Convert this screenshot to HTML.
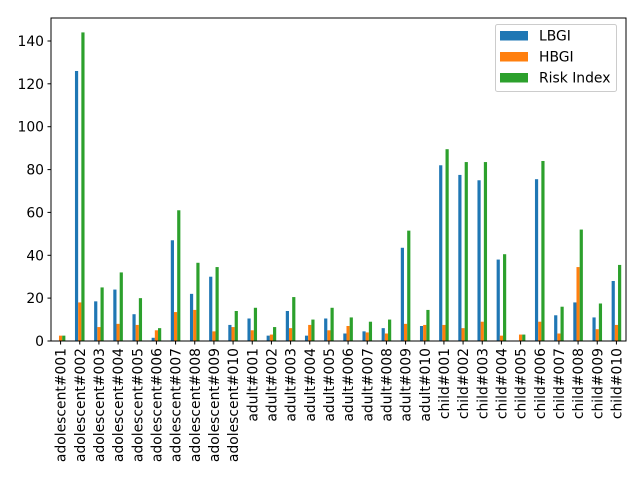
<!DOCTYPE html>
<html><head><style>body{margin:0;background:#fff}svg{display:block}text{font-family:"DejaVu Sans","Liberation Sans",sans-serif;font-size:13.9px;fill:#000}</style></head>
<body>
<svg width="640" height="480" viewBox="0 0 640 480" xmlns="http://www.w3.org/2000/svg">
<g id="bars">
<g transform="translate(60.58,341) scale(1,-2.143)"><rect x="-4.79" width="3.19" height="0" fill="#1f77b4"/><rect x="-1.6" width="3.19" height="2.5" fill="#ff7f0e"/><rect x="1.6" width="3.19" height="2.5" fill="#2ca02c"/></g>
<g transform="translate(79.75,341) scale(1,-2.143)"><rect x="-4.79" width="3.19" height="126" fill="#1f77b4"/><rect x="-1.6" width="3.19" height="18" fill="#ff7f0e"/><rect x="1.6" width="3.19" height="144" fill="#2ca02c"/></g>
<g transform="translate(98.92,341) scale(1,-2.143)"><rect x="-4.79" width="3.19" height="18.5" fill="#1f77b4"/><rect x="-1.6" width="3.19" height="6.5" fill="#ff7f0e"/><rect x="1.6" width="3.19" height="25" fill="#2ca02c"/></g>
<g transform="translate(118.08,341) scale(1,-2.143)"><rect x="-4.79" width="3.19" height="24" fill="#1f77b4"/><rect x="-1.6" width="3.19" height="8" fill="#ff7f0e"/><rect x="1.6" width="3.19" height="32" fill="#2ca02c"/></g>
<g transform="translate(137.25,341) scale(1,-2.143)"><rect x="-4.79" width="3.19" height="12.5" fill="#1f77b4"/><rect x="-1.6" width="3.19" height="7.5" fill="#ff7f0e"/><rect x="1.6" width="3.19" height="20" fill="#2ca02c"/></g>
<g transform="translate(156.42,341) scale(1,-2.143)"><rect x="-4.79" width="3.19" height="1.5" fill="#1f77b4"/><rect x="-1.6" width="3.19" height="5" fill="#ff7f0e"/><rect x="1.6" width="3.19" height="6" fill="#2ca02c"/></g>
<g transform="translate(175.58,341) scale(1,-2.143)"><rect x="-4.79" width="3.19" height="47" fill="#1f77b4"/><rect x="-1.6" width="3.19" height="13.5" fill="#ff7f0e"/><rect x="1.6" width="3.19" height="61" fill="#2ca02c"/></g>
<g transform="translate(194.75,341) scale(1,-2.143)"><rect x="-4.79" width="3.19" height="22" fill="#1f77b4"/><rect x="-1.6" width="3.19" height="14.5" fill="#ff7f0e"/><rect x="1.6" width="3.19" height="36.5" fill="#2ca02c"/></g>
<g transform="translate(213.92,341) scale(1,-2.143)"><rect x="-4.79" width="3.19" height="30" fill="#1f77b4"/><rect x="-1.6" width="3.19" height="4.5" fill="#ff7f0e"/><rect x="1.6" width="3.19" height="34.5" fill="#2ca02c"/></g>
<g transform="translate(233.08,341) scale(1,-2.143)"><rect x="-4.79" width="3.19" height="7.5" fill="#1f77b4"/><rect x="-1.6" width="3.19" height="6.5" fill="#ff7f0e"/><rect x="1.6" width="3.19" height="14" fill="#2ca02c"/></g>
<g transform="translate(252.25,341) scale(1,-2.143)"><rect x="-4.79" width="3.19" height="10.5" fill="#1f77b4"/><rect x="-1.6" width="3.19" height="5" fill="#ff7f0e"/><rect x="1.6" width="3.19" height="15.5" fill="#2ca02c"/></g>
<g transform="translate(271.42,341) scale(1,-2.143)"><rect x="-4.79" width="3.19" height="2.5" fill="#1f77b4"/><rect x="-1.6" width="3.19" height="3" fill="#ff7f0e"/><rect x="1.6" width="3.19" height="6.5" fill="#2ca02c"/></g>
<g transform="translate(290.58,341) scale(1,-2.143)"><rect x="-4.79" width="3.19" height="14" fill="#1f77b4"/><rect x="-1.6" width="3.19" height="6" fill="#ff7f0e"/><rect x="1.6" width="3.19" height="20.5" fill="#2ca02c"/></g>
<g transform="translate(309.75,341) scale(1,-2.143)"><rect x="-4.79" width="3.19" height="2.5" fill="#1f77b4"/><rect x="-1.6" width="3.19" height="7.5" fill="#ff7f0e"/><rect x="1.6" width="3.19" height="10" fill="#2ca02c"/></g>
<g transform="translate(328.92,341) scale(1,-2.143)"><rect x="-4.79" width="3.19" height="10.5" fill="#1f77b4"/><rect x="-1.6" width="3.19" height="5" fill="#ff7f0e"/><rect x="1.6" width="3.19" height="15.5" fill="#2ca02c"/></g>
<g transform="translate(348.08,341) scale(1,-2.143)"><rect x="-4.79" width="3.19" height="3.5" fill="#1f77b4"/><rect x="-1.6" width="3.19" height="7" fill="#ff7f0e"/><rect x="1.6" width="3.19" height="11" fill="#2ca02c"/></g>
<g transform="translate(367.25,341) scale(1,-2.143)"><rect x="-4.79" width="3.19" height="4.5" fill="#1f77b4"/><rect x="-1.6" width="3.19" height="4" fill="#ff7f0e"/><rect x="1.6" width="3.19" height="9" fill="#2ca02c"/></g>
<g transform="translate(386.42,341) scale(1,-2.143)"><rect x="-4.79" width="3.19" height="6" fill="#1f77b4"/><rect x="-1.6" width="3.19" height="3.5" fill="#ff7f0e"/><rect x="1.6" width="3.19" height="10" fill="#2ca02c"/></g>
<g transform="translate(405.58,341) scale(1,-2.143)"><rect x="-4.79" width="3.19" height="43.5" fill="#1f77b4"/><rect x="-1.6" width="3.19" height="8" fill="#ff7f0e"/><rect x="1.6" width="3.19" height="51.5" fill="#2ca02c"/></g>
<g transform="translate(424.75,341) scale(1,-2.143)"><rect x="-4.79" width="3.19" height="7" fill="#1f77b4"/><rect x="-1.6" width="3.19" height="7.5" fill="#ff7f0e"/><rect x="1.6" width="3.19" height="14.5" fill="#2ca02c"/></g>
<g transform="translate(443.92,341) scale(1,-2.143)"><rect x="-4.79" width="3.19" height="82" fill="#1f77b4"/><rect x="-1.6" width="3.19" height="7.5" fill="#ff7f0e"/><rect x="1.6" width="3.19" height="89.5" fill="#2ca02c"/></g>
<g transform="translate(463.08,341) scale(1,-2.143)"><rect x="-4.79" width="3.19" height="77.5" fill="#1f77b4"/><rect x="-1.6" width="3.19" height="6" fill="#ff7f0e"/><rect x="1.6" width="3.19" height="83.5" fill="#2ca02c"/></g>
<g transform="translate(482.25,341) scale(1,-2.143)"><rect x="-4.79" width="3.19" height="75" fill="#1f77b4"/><rect x="-1.6" width="3.19" height="9" fill="#ff7f0e"/><rect x="1.6" width="3.19" height="83.5" fill="#2ca02c"/></g>
<g transform="translate(501.42,341) scale(1,-2.143)"><rect x="-4.79" width="3.19" height="38" fill="#1f77b4"/><rect x="-1.6" width="3.19" height="2.5" fill="#ff7f0e"/><rect x="1.6" width="3.19" height="40.5" fill="#2ca02c"/></g>
<g transform="translate(520.58,341) scale(1,-2.143)"><rect x="-4.79" width="3.19" height="0" fill="#1f77b4"/><rect x="-1.6" width="3.19" height="3" fill="#ff7f0e"/><rect x="1.6" width="3.19" height="3" fill="#2ca02c"/></g>
<g transform="translate(539.75,341) scale(1,-2.143)"><rect x="-4.79" width="3.19" height="75.5" fill="#1f77b4"/><rect x="-1.6" width="3.19" height="9" fill="#ff7f0e"/><rect x="1.6" width="3.19" height="84" fill="#2ca02c"/></g>
<g transform="translate(558.92,341) scale(1,-2.143)"><rect x="-4.79" width="3.19" height="12" fill="#1f77b4"/><rect x="-1.6" width="3.19" height="3.5" fill="#ff7f0e"/><rect x="1.6" width="3.19" height="16" fill="#2ca02c"/></g>
<g transform="translate(578.08,341) scale(1,-2.143)"><rect x="-4.79" width="3.19" height="18" fill="#1f77b4"/><rect x="-1.6" width="3.19" height="34.5" fill="#ff7f0e"/><rect x="1.6" width="3.19" height="52" fill="#2ca02c"/></g>
<g transform="translate(597.25,341) scale(1,-2.143)"><rect x="-4.79" width="3.19" height="11" fill="#1f77b4"/><rect x="-1.6" width="3.19" height="5.5" fill="#ff7f0e"/><rect x="1.6" width="3.19" height="17.5" fill="#2ca02c"/></g>
<g transform="translate(616.42,341) scale(1,-2.143)"><rect x="-4.79" width="3.19" height="28" fill="#1f77b4"/><rect x="-1.6" width="3.19" height="7.5" fill="#ff7f0e"/><rect x="1.6" width="3.19" height="35.5" fill="#2ca02c"/></g>
</g>
<rect x="51" y="18" width="575" height="323" fill="none" stroke="#000" stroke-width="1"/>
<g stroke="#000" stroke-width="1">
<line x1="51" y1="341" x2="47.5" y2="341"/><line x1="51" y1="298.1" x2="47.5" y2="298.1"/><line x1="51" y1="255.3" x2="47.5" y2="255.3"/><line x1="51" y1="212.4" x2="47.5" y2="212.4"/><line x1="51" y1="169.6" x2="47.5" y2="169.6"/><line x1="51" y1="126.7" x2="47.5" y2="126.7"/><line x1="51" y1="83.8" x2="47.5" y2="83.8"/><line x1="51" y1="41" x2="47.5" y2="41"/>
</g>
<g text-anchor="end">
<text x="44" y="346">0</text><text x="44" y="303.1">20</text><text x="44" y="260.3">40</text><text x="44" y="217.4">60</text><text x="44" y="174.6">80</text><text x="44" y="131.7">100</text><text x="44" y="88.8">120</text><text x="44" y="46">140</text>
</g>
<g stroke="#000" stroke-width="1">
<line x1="60.58" y1="341" x2="60.58" y2="344.5"/><line x1="79.75" y1="341" x2="79.75" y2="344.5"/><line x1="98.92" y1="341" x2="98.92" y2="344.5"/><line x1="118.08" y1="341" x2="118.08" y2="344.5"/><line x1="137.25" y1="341" x2="137.25" y2="344.5"/><line x1="156.42" y1="341" x2="156.42" y2="344.5"/><line x1="175.58" y1="341" x2="175.58" y2="344.5"/><line x1="194.75" y1="341" x2="194.75" y2="344.5"/><line x1="213.92" y1="341" x2="213.92" y2="344.5"/><line x1="233.08" y1="341" x2="233.08" y2="344.5"/><line x1="252.25" y1="341" x2="252.25" y2="344.5"/><line x1="271.42" y1="341" x2="271.42" y2="344.5"/><line x1="290.58" y1="341" x2="290.58" y2="344.5"/><line x1="309.75" y1="341" x2="309.75" y2="344.5"/><line x1="328.92" y1="341" x2="328.92" y2="344.5"/><line x1="348.08" y1="341" x2="348.08" y2="344.5"/><line x1="367.25" y1="341" x2="367.25" y2="344.5"/><line x1="386.42" y1="341" x2="386.42" y2="344.5"/><line x1="405.58" y1="341" x2="405.58" y2="344.5"/><line x1="424.75" y1="341" x2="424.75" y2="344.5"/><line x1="443.92" y1="341" x2="443.92" y2="344.5"/><line x1="463.08" y1="341" x2="463.08" y2="344.5"/><line x1="482.25" y1="341" x2="482.25" y2="344.5"/><line x1="501.42" y1="341" x2="501.42" y2="344.5"/><line x1="520.58" y1="341" x2="520.58" y2="344.5"/><line x1="539.75" y1="341" x2="539.75" y2="344.5"/><line x1="558.92" y1="341" x2="558.92" y2="344.5"/><line x1="578.08" y1="341" x2="578.08" y2="344.5"/><line x1="597.25" y1="341" x2="597.25" y2="344.5"/><line x1="616.42" y1="341" x2="616.42" y2="344.5"/>
</g>
<g text-anchor="end">
<text transform="translate(65.6,348) rotate(-90)">adolescent#001</text>
<text transform="translate(84.75,348) rotate(-90)">adolescent#002</text>
<text transform="translate(103.92,348) rotate(-90)">adolescent#003</text>
<text transform="translate(123.08,348) rotate(-90)">adolescent#004</text>
<text transform="translate(142.25,348) rotate(-90)">adolescent#005</text>
<text transform="translate(161.42,348) rotate(-90)">adolescent#006</text>
<text transform="translate(180.58,348) rotate(-90)">adolescent#007</text>
<text transform="translate(199.75,348) rotate(-90)">adolescent#008</text>
<text transform="translate(218.92,348) rotate(-90)">adolescent#009</text>
<text transform="translate(238.08,348) rotate(-90)">adolescent#010</text>
<text transform="translate(257.25,348) rotate(-90)">adult#001</text>
<text transform="translate(276.42,348) rotate(-90)">adult#002</text>
<text transform="translate(295.58,348) rotate(-90)">adult#003</text>
<text transform="translate(314.75,348) rotate(-90)">adult#004</text>
<text transform="translate(333.92,348) rotate(-90)">adult#005</text>
<text transform="translate(353.08,348) rotate(-90)">adult#006</text>
<text transform="translate(372.25,348) rotate(-90)">adult#007</text>
<text transform="translate(391.42,348) rotate(-90)">adult#008</text>
<text transform="translate(410.58,348) rotate(-90)">adult#009</text>
<text transform="translate(429.75,348) rotate(-90)">adult#010</text>
<text transform="translate(448.92,348) rotate(-90)">child#001</text>
<text transform="translate(468.08,348) rotate(-90)">child#002</text>
<text transform="translate(487.25,348) rotate(-90)">child#003</text>
<text transform="translate(506.42,348) rotate(-90)">child#004</text>
<text transform="translate(525.58,348) rotate(-90)">child#005</text>
<text transform="translate(544.75,348) rotate(-90)">child#006</text>
<text transform="translate(563.92,348) rotate(-90)">child#007</text>
<text transform="translate(583.08,348) rotate(-90)">child#008</text>
<text transform="translate(602.25,348) rotate(-90)">child#009</text>
<text transform="translate(621.42,348) rotate(-90)">child#010</text>
</g>
<rect x="495.5" y="24.5" width="121" height="67" rx="2" fill="#fff" fill-opacity="0.8" stroke="#ccc"/>
<rect x="500" y="31" width="28" height="9.5" fill="#1f77b4"/><text x="539" y="40.5">LBGI</text>
<rect x="500" y="52" width="28" height="9.5" fill="#ff7f0e"/><text x="539" y="61.5">HBGI</text>
<rect x="500" y="73" width="28" height="9.5" fill="#2ca02c"/><text x="539" y="82.5">Risk Index</text>
</svg>
</body></html>
